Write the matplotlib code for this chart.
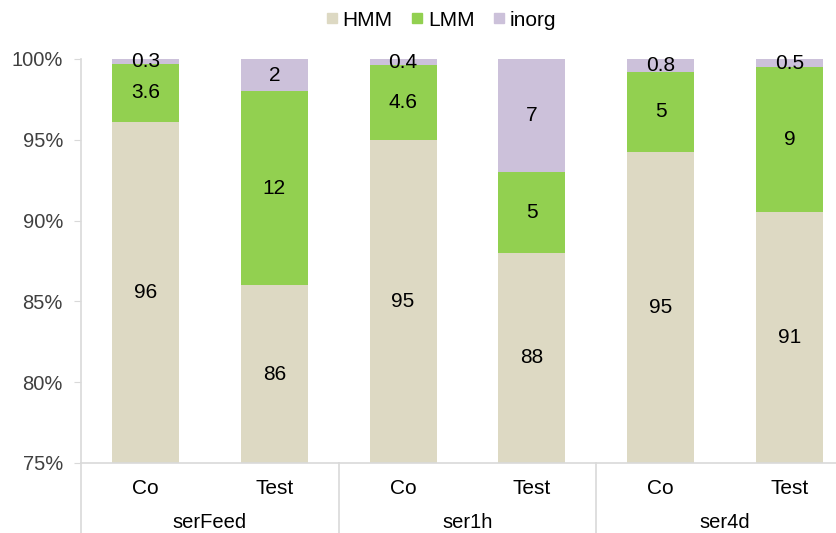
import numpy as np
import matplotlib
matplotlib.use('Agg')
import matplotlib.pyplot as plt
from matplotlib.lines import Line2D
from matplotlib.ticker import FuncFormatter

plt.rcParams['font.family'] = ['Liberation Sans', 'DejaVu Sans']

groups = ['serFeed', 'ser1h', 'ser4d']
conditions = ['Co', 'Test', 'Co', 'Test', 'Co', 'Test']
series_names = ['HMM', 'LMM', 'inorg']
hmm = [96, 86, 95, 88, 95, 91]
lmm = [3.6, 12, 4.6, 5, 5, 9]
inorg = [0.3, 2, 0.4, 7, 0.8, 0.5]
y_ticks = [75, 80, 85, 90, 95, 100]

colors = ['#DDD9C3', '#92D050', '#CCC1DA']
grid_col = '#D9D9D9'
text_col = '#404040'

vals = np.array([hmm, lmm, inorg], dtype=float)
share = vals / vals.sum(axis=0) * 100  # 100% stacked
x = np.arange(len(conditions))
ymin, ymax = 75, 100

fig = plt.figure(figsize=(8.36, 5.33), dpi=100)
ax = fig.add_axes([81 / 836, 1 - 463 / 533, 1 - 81 / 836, (463 - 59) / 533])

bottom = np.zeros(len(x))
for i, name in enumerate(series_names):
    ax.bar(x, share[i], bottom=bottom, width=0.52, color=colors[i], zorder=2)
    for j in range(len(x)):
        lo = max(bottom[j], ymin)
        hi = min(bottom[j] + share[i][j], ymax)
        label = f'{vals[i][j]:g}'
        ax.text(x[j], (lo + hi) / 2, label, ha='center', va='center',
                fontsize=15, color='black', zorder=3)
    bottom += share[i]

ax.set_ylim(ymin, ymax)
ax.set_xlim(-0.5, 5.36)
ax.set_yticks(y_ticks)
ax.yaxis.set_major_formatter(FuncFormatter(lambda v, p: f'{v:.0f}%'))
ax.tick_params(axis='y', length=5, color=grid_col, labelsize=14.5, labelcolor=text_col, pad=8)
ax.set_xticks([])

for side in ['top', 'right']:
    ax.spines[side].set_visible(False)
for side in ['left', 'bottom']:
    ax.spines[side].set_color(grid_col)
    ax.spines[side].set_linewidth(1.2)

# two-level category axis
trans = ax.get_xaxis_transform()
for sx in [-0.5, 1.5, 3.5]:
    ax.plot([sx, sx], [0, -0.2], color=grid_col, lw=1.2, transform=trans, clip_on=False)
for j, c in enumerate(conditions):
    ax.text(x[j], -0.062, c, transform=trans, ha='center', va='center',
            fontsize=15, color='black')
for g, name in enumerate(groups):
    ax.text(2 * g + 0.5, -0.147, name, transform=trans, ha='center', va='center',
            fontsize=14.5, color='black')

handles = [Line2D([], [], marker='s', ls='none', markersize=7, color=c) for c in colors]
fig.legend(handles, series_names, loc='center', bbox_to_anchor=(440 / 836, 1 - 20 / 533),
           ncol=3, frameon=False, fontsize=15, handletextpad=0.1, columnspacing=0.8,
           handlelength=0.8)

plt.savefig('out.png', dpi=100)
plt.close()
